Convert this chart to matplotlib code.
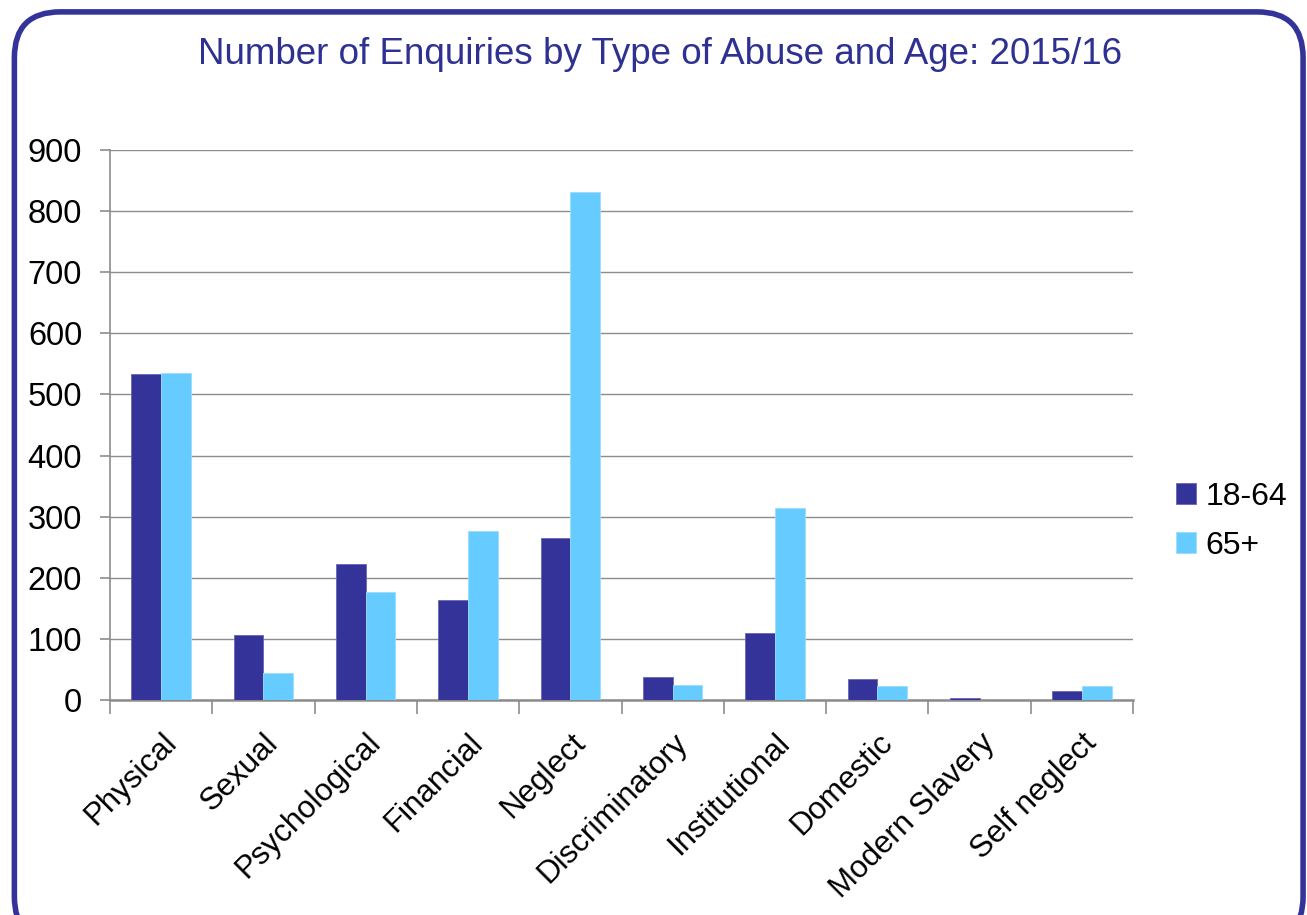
import matplotlib.pyplot as plt
import numpy as np
from matplotlib.patches import FancyBboxPatch

plt.rcParams['font.family'] = ['Liberation Sans', 'DejaVu Sans']

# Data
categories = ['Physical', 'Sexual', 'Psychological', 'Financial', 'Neglect',
              'Discriminatory', 'Institutional', 'Domestic', 'Modern Slavery', 'Self neglect']
age_18_64 = [533, 106, 223, 164, 265, 38, 110, 34, 4, 14]
age_65_plus = [535, 44, 177, 277, 831, 25, 314, 23, 0, 23]

dark = '#333399'
light = '#66CCFF'
grey = '#8c8c8c'

fig = plt.figure(figsize=(13.07, 9.15), dpi=100)

# rounded frame
frame = FancyBboxPatch((0.011, -0.03), 0.986, 1.017, boxstyle='round,pad=0,rounding_size=0.035',
                       transform=fig.transFigure, facecolor='none', edgecolor=dark,
                       linewidth=4, mutation_aspect=1307 / 915, zorder=5)
fig.patches.append(frame)

ax = fig.add_axes([110 / 1307, 1 - 700 / 915, (1133 - 110) / 1307, 550 / 915])

x = np.arange(len(categories))
w = 0.29
ax.bar(x - w / 2, age_18_64, w, color=dark, edgecolor='#6666b0', linewidth=0.6, label='18-64', zorder=3)
ax.bar(x + w / 2, age_65_plus, w, color=light, edgecolor='#99ddff', linewidth=0.6, label='65+', zorder=3)

ax.set_xlim(-0.5, len(categories) - 0.5)
ax.set_ylim(0, 900)
ax.set_yticks(range(0, 1000, 100))
ax.yaxis.grid(True, color=grey, linewidth=1)
ax.set_axisbelow(True)

ax.set_xticks(np.arange(-0.5, len(categories), 1))
ax.set_xticklabels([])
ax.set_xticks(x, minor=True)
ax.set_xticklabels(categories, minor=True, rotation=45, ha='right', rotation_mode='anchor', fontsize=22.5)
ax.tick_params(axis='x', which='major', length=10, color=grey, width=1.2)
ax.tick_params(axis='x', which='minor', length=0, pad=20)
ax.tick_params(axis='y', length=7, color=grey, width=1.2, labelsize=23.5, pad=13)

for s in ['top', 'right']:
    ax.spines[s].set_visible(False)
ax.spines['left'].set_color(grey)
ax.spines['bottom'].set_color(grey)
ax.spines['left'].set_linewidth(1.2)
ax.spines['bottom'].set_linewidth(1.8)

fig.text(660 / 1307, 1 - 54 / 915, 'Number of Enquiries by Type of Abuse and Age: 2015/16',
         ha='center', va='center', fontsize=26.5, color='#2E3192')

ax.legend(loc='center left', bbox_to_anchor=(1.03, 0.325), frameon=False, fontsize=23,
          handlelength=0.6, handleheight=0.6, handletextpad=0.3, labelspacing=0.6,
          borderaxespad=0)

plt.savefig('out.png', dpi=100)
